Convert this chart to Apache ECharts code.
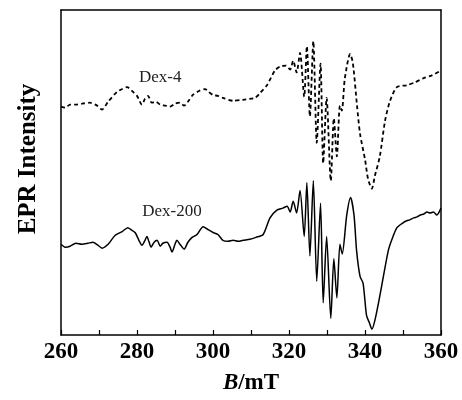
<!DOCTYPE html>
<html><head><meta charset="utf-8">
<script src="https://cdn.jsdelivr.net/npm/echarts@6/dist/echarts.min.js"></script>
<style>html,body{margin:0;padding:0;background:#fff}#c{width:462px;height:400px}</style>
</head><body><div id="c"></div>
<script>
// B field (mT) and EPR intensity (arbitrary units) for each sample
const dex4B = [260.0,261.1,262.4,263.9,265.5,267.6,269.5,270.8,272.4,274.7,276.1,277.4,278.7,280.0,281.3,282.1,282.9,283.9,285.0,286.1,287.4,288.7,290.0,291.3,292.4,293.4,294.7,296.3,297.9,298.9,300.0,301.3,302.6,305.3,307.9,309.7,311.1,312.4,314.2,316.3,317.6,319.2,320.3,321.1,322.0,322.9,324.0,324.7,325.5,326.4,327.3,328.3,329.0,329.9,331.0,331.8,332.6,333.4,333.9,334.7,336.1,336.8,337.9,338.7,340.0,340.8,341.8,342.6,343.9,345.3,346.6,348.4,351.1,353.2,355.3,357.6,360.0];
const dex4I = [234,233,236,236,237,238,235,231,239,249,252,254,250,245,236,242,245,238,239,236,235,234,237,238,235,239,246,250,252,249,246,245,243,240,241,242,243,248,256,271,275,276,272,281,269,289,244,296,224,301,197,278,176,243,158,222,183,235,230,263,288,279,235,206,180,160,150,163,183,220,240,254,256,259,263,266,271];
const dex200B = [260.0,261.1,262.4,263.9,265.5,267.1,268.4,269.7,270.8,272.4,274.2,276.1,277.6,278.4,279.5,280.5,281.3,282.1,282.6,283.2,283.7,284.5,285.3,286.1,286.8,287.9,288.7,289.2,290.0,290.5,291.3,292.4,293.4,294.5,295.8,297.4,298.7,300.0,301.3,302.6,304.0,305.3,306.6,307.9,309.7,311.3,313.2,315.0,316.8,318.4,319.5,320.3,321.1,322.0,322.9,324.0,324.7,325.5,326.4,327.3,328.3,329.0,329.9,331.0,331.8,332.6,333.4,334.0,335.2,336.2,337.1,337.8,338.7,339.5,340.4,341.1,341.8,342.6,343.9,346.1,347.1,348.4,350.0,351.0,351.8,352.8,353.7,354.6,355.5,356.3,357.1,358.0,358.9,360.0];
const dex200I = [93,90,91,94,93,94,95,92,89,93,102,106,110,108,105,97,92,97,101,95,90,95,97,91,94,95,90,85,93,97,93,88,95,100,103,111,108,105,103,97,96,97,96,97,98,100,103,120,128,130,132,126,137,125,148,101,156,81,158,55,135,33,101,17,78,38,93,83,123,141,123,86,60,53,20,13,6,15,40,86,98,110,115,117,118,120,121,123,124,126,125,126,123,130];
const seriesNames = ['Dex-4','Dex-200'];
const labelB = [286.1, 289.2];
const labelI = [264, 127];
const xTicks = [260,280,300,320,340,360];

const zip = (a,b)=>a.map((v,i)=>[v,b[i]]);
const serif = '"Liberation Serif","Times New Roman",serif';
const chart = echarts.init(document.getElementById('c'));
const mk = (i)=>({
  symbol:'rect', symbolSize:1, silent:true,
  itemStyle:{color:'rgba(0,0,0,0)'},
  data:[{coord:[labelB[i],labelI[i]], value:seriesNames[i]}],
  label:{show:true, position:'inside', formatter:seriesNames[i], color:'#222', fontFamily:serif, fontSize:17}
});
chart.setOption({
  animation:false,
  grid:{left:61,right:21,top:10,bottom:57},
  xAxis:[{
    type:'value', min:260, max:360, interval:10,
    axisLine:{show:true,onZero:false,lineStyle:{color:'#000',width:1.5}},
    axisTick:{show:true,inside:true,length:5,lineStyle:{color:'#000',width:1.2}},
    splitLine:{show:false},
    axisLabel:{color:'#000',fontFamily:serif,fontWeight:'bold',fontSize:23,margin:6,
      formatter:v=>xTicks.indexOf(v)>=0?String(v):''},
    name:'{i|B}{n|/mT}', nameLocation:'middle', nameGap:37,
    nameTextStyle:{rich:{i:{fontFamily:serif,fontWeight:'bold',fontStyle:'italic',fontSize:23,color:'#000'},
                         n:{fontFamily:serif,fontWeight:'bold',fontSize:23,color:'#000'}}}
  },{
    type:'value', min:260, max:360, position:'top',
    axisLine:{show:true,onZero:false,lineStyle:{color:'#000',width:1.5}},
    axisTick:{show:false}, axisLabel:{show:false}, splitLine:{show:false}
  }],
  yAxis:[{
    type:'value', min:0, max:333,
    axisLine:{show:true,onZero:false,lineStyle:{color:'#000',width:1.5}},
    axisTick:{show:false}, axisLabel:{show:false}, splitLine:{show:false}
  },{
    type:'value', min:0, max:333, position:'right',
    axisLine:{show:true,onZero:false,lineStyle:{color:'#000',width:1.5}},
    axisTick:{show:false}, axisLabel:{show:false}, splitLine:{show:false}
  }],
  graphic:[{type:'text', x:29, y:159, rotation:Math.PI/2,
    style:{text:'EPR Intensity', fontFamily:serif, fontWeight:'bold', fontSize:25, fill:'#000',
      align:'center', verticalAlign:'middle'}}],
  series:[
    {name:seriesNames[0], type:'line', data:zip(dex4B,dex4I), showSymbol:false, smooth:0.25,
      lineStyle:{color:'#000',width:1.8,type:[4,3]}, markPoint:mk(0)},
    {name:seriesNames[1], type:'line', data:zip(dex200B,dex200I), showSymbol:false, smooth:0.25,
      lineStyle:{color:'#000',width:1.5}, markPoint:mk(1)}
  ]
});
</script></body></html>
